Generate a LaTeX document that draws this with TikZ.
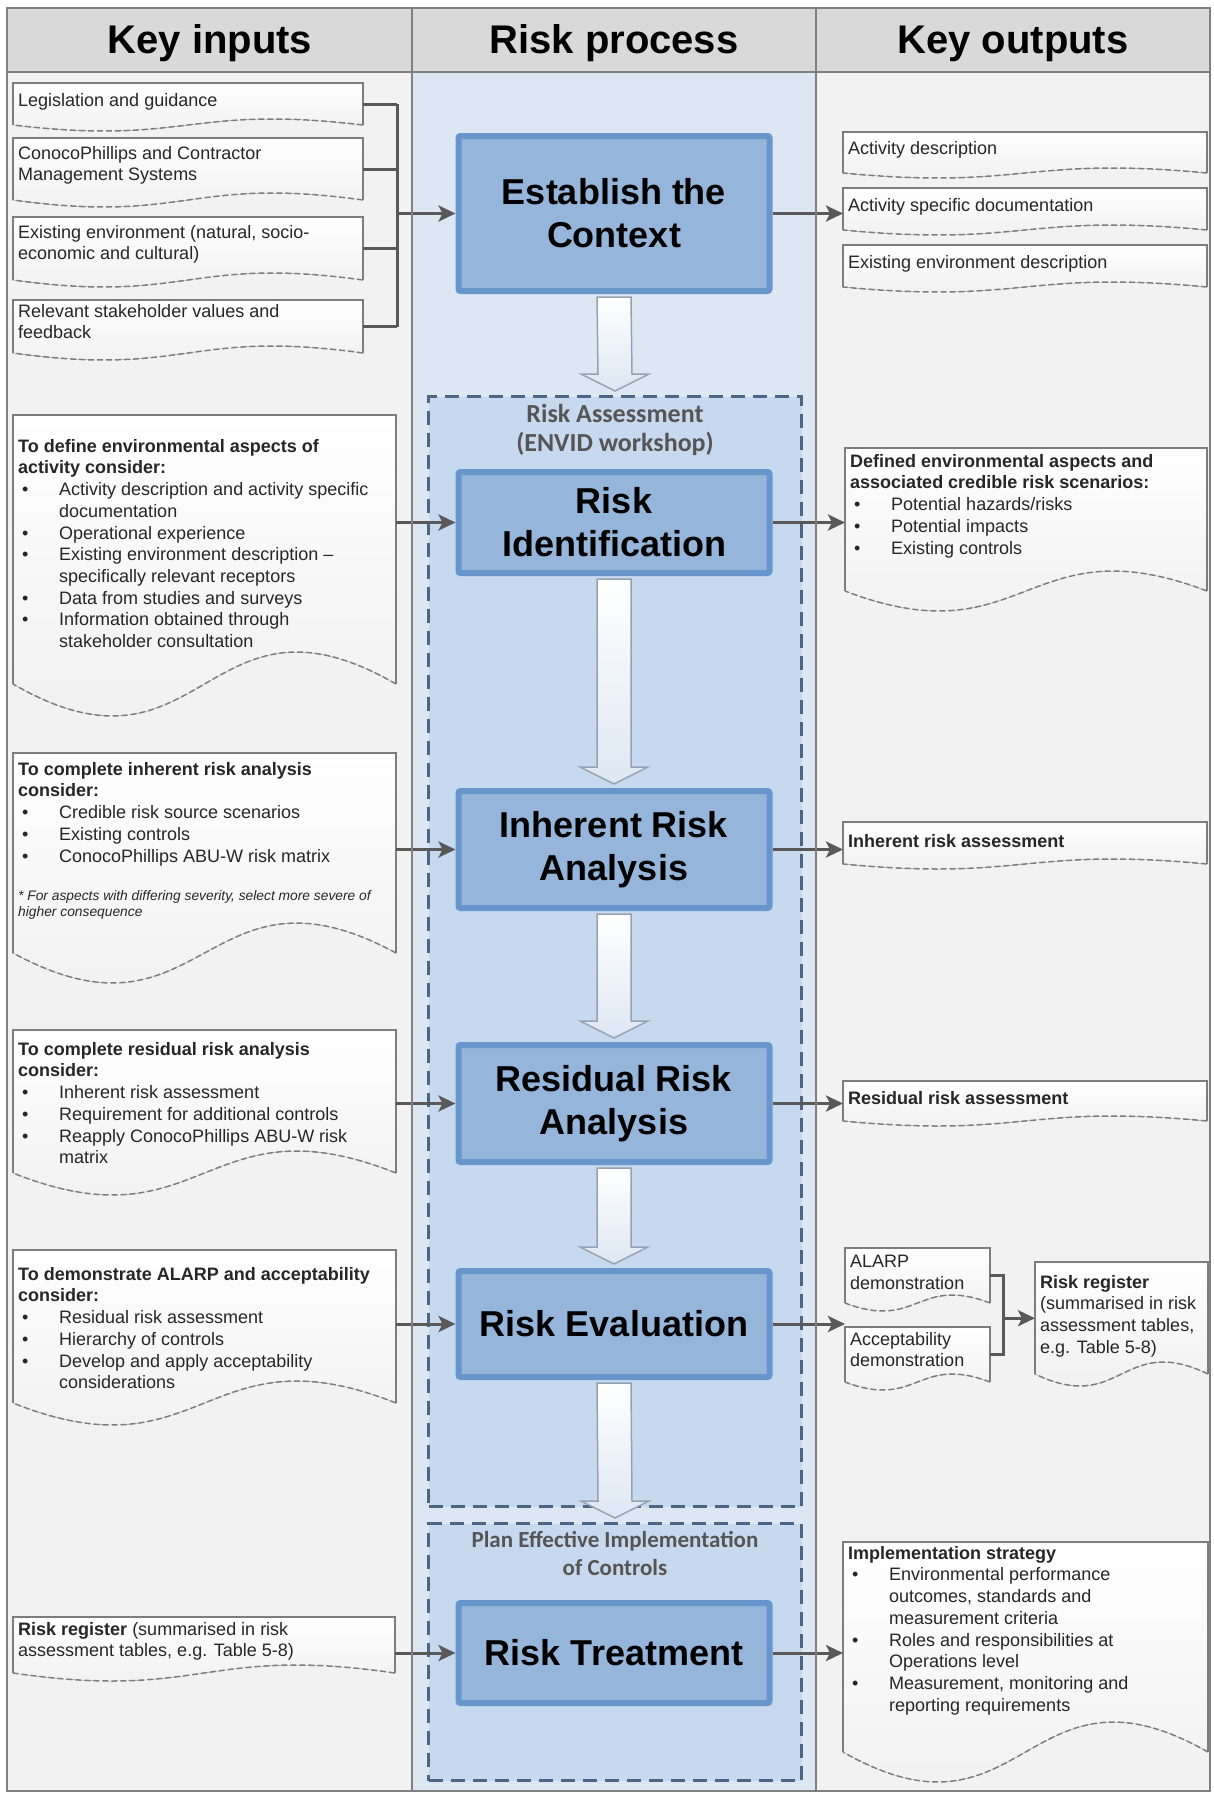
\documentclass[tikz,border=0pt]{standalone}
\usepackage{fontspec}
\setmainfont{Liberation Sans}
\newfontfamily\calib{Carlito}
\usetikzlibrary{
    positioning,
    calc,
    arrows.meta
}
\definecolor{framegray}{RGB}{128,128,128}
\definecolor{headgray}{RGB}{217,217,217}
\definecolor{sidegray}{RGB}{242,242,242}
\definecolor{colblue}{RGB}{221,231,243}
\definecolor{stageblue}{RGB}{199,217,238}
\definecolor{stageline}{RGB}{74,102,132}
\definecolor{procfill}{RGB}{149,182,218}
\definecolor{procline}{RGB}{104,150,204}
\definecolor{linkgray}{RGB}{89,89,89}
\definecolor{docline}{RGB}{125,125,125}
\definecolor{hollowline}{RGB}{150,162,178}
\definecolor{labelgray}{RGB}{85,85,85}
\def\brkx{397}
\def\regx{1003}
\newcommand{\bul}{\hspace*{4pt}\makebox[37pt][l]{\textbullet}}
\newcommand{\cont}{\hspace*{41pt}}
\newcommand{\foot}[1]{{\fontsize{13.8}{16}\selectfont\itshape #1}}
\tikzset{
    head/.style={
        font=\fontsize{40}{48}\selectfont\bfseries,
    },
    proc/.style={
        draw=procline,
        line width=6pt,
        fill=procfill,
        rounded corners=2pt,
        minimum width=311pt,
        align=center,
        font=\fontsize{36}{43}\selectfont\bfseries,
    },
    stage/.style={
        draw=stageline,
        line width=3pt,
        dash pattern=on 14pt off 8pt,
        fill=stageblue,
        minimum width=373pt,
    },
    stagelabel/.style={
        inner sep=0pt,
        align=center,
        text=labelgray,
        font=\calib\fontsize{23}{28}\selectfont\bfseries,
    },
    link/.style={draw=linkgray, line width=3pt},
    arr/.style={link, -{Stealth[length=17pt,width=16pt,inset=4pt]}},
    hollow/.style={draw=hollowline, line width=1.5pt, top color=white, bottom color=colblue},
    docfill/.style={top color=white, bottom color=black!7, draw=none},
    docside/.style={draw=docline, line width=1.5pt},
    docwave/.style={draw=docline, line width=1.5pt, dash pattern=on 6pt off 3pt},
    doctext/.style={
        anchor=north west,
        inner sep=0pt,
        align=left,
        text=black!85,
        font=\fontsize{18}{21.7}\selectfont,
    },
}
% name, x, y, width, height, wave, first baseline
\newcommand{\doc}[7]{%
    \fill[docfill] (#2,#3) -- ++(#4,0) -- ++(0,#5)
        .. controls ({#2+#4/2},{#3+#5-3.46*#6}) and ({#2+#4/2},{#3+#5+3.46*#6}) .. (#2,{#3+#5}) -- cycle;
    \draw[docside] (#2,{#3+#5}) -- (#2,#3) -- ({#2+#4},#3) -- ({#2+#4},{#3+#5});
    \draw[docwave] ({#2+#4},{#3+#5})
        .. controls ({#2+#4/2},{#3+#5-3.46*#6}) and ({#2+#4/2},{#3+#5+3.46*#6}) .. (#2,{#3+#5});
    \node[inner sep=0pt, minimum width=#4pt, minimum height=#5pt, anchor=north west] (#1) at (#2,#3) {};
    \node[doctext] at ({#2+5},{#3+#7-13})
}
\begin{document}
\begin{tikzpicture}[x=1pt, y=-1pt]
    \useasboundingbox (0,0) rectangle (1213,1794);
    \fill[white] (0,0) rectangle (1213,1794);
    \fill[sidegray] (7,72) rectangle (412,1791);
    \fill[colblue] (412,72) rectangle (816,1791);
    \fill[sidegray] (816,72) rectangle (1210,1791);
    \fill[headgray] (7,8) rectangle (1210,72);

    \node[head, anchor=base] (hin) at (210,53) {Key inputs};
    \node[head, anchor=base] (hproc) at (614,53) {Risk process};
    \node[head, anchor=base] (hout) at (1013,53) {Key outputs};

    \node[stage, minimum height=1110pt] (assess) at (615,951.5) {};
    \node[stage, minimum height=257pt] (plan) at (615,1652) {};
    \node[stagelabel, anchor=north, font=\calib\fontsize{26}{29}\selectfont\bfseries] (assesslbl)
        at ($(assess.north)+(0,9)$) {Risk Assessment\\(ENVID workshop)};
    \node[stagelabel, anchor=north] (planlbl) at ($(plan.north)+(0,9)$) {Plan Effective Implementation\\of Controls};

    \node[proc, minimum height=155pt] (ctx) at (614,213.5) {Establish the\\Context};
    \node[proc, minimum height=101pt, below=175pt of ctx] (id) {Risk\\Identification};
    \node[proc, minimum height=117pt, below=212pt of id] (inh) {Inherent Risk\\Analysis};
    \node[proc, minimum height=117pt, below=131pt of inh] (res) {Residual Risk\\Analysis};
    \node[proc, minimum height=106pt, below=103pt of res] (eval) {Risk Evaluation};
    \node[proc, minimum height=100pt, below=220pt of eval] (treat) {Risk Treatment};

    \foreach \a/\b in {ctx/assess, id/inh, inh/res, res/eval, eval/plan}{
        \draw[hollow] ($(\a.south)+(-17,3)$) -- ($(\b.north)+(-17,-21)$) -- ($(\b.north)+(-34,-21)$)
            -- ($(\b.north)+(0,-4)$) -- ($(\b.north)+(34,-21)$) -- ($(\b.north)+(17,-21)$)
            -- ($(\a.south)+(17,3)$) -- cycle;
    }

    \doc{leg}{13}{83}{350}{42}{6}{23}{Legislation and guidance};
    \doc{cms}{13}{138}{350}{62}{7}{21}{ConocoPhillips and Contractor\\Management Systems};
    \doc{env}{13}{217}{350}{63}{7}{21}{Existing environment (natural, socio-\\economic and cultural)};
    \doc{stake}{13}{300}{350}{53}{7}{17}{Relevant stakeholder values and\\feedback};
    \doc{defin}{13}{415}{383}{269}{32}{37}{\textbf{To define environmental aspects of}\\
        \textbf{activity consider:}\\
        \bul Activity description and activity specific\\
        \cont documentation\\
        \bul Operational experience\\
        \bul Existing environment description --\\
        \cont specifically relevant receptors\\
        \bul Data from studies and surveys\\
        \bul Information obtained through\\
        \cont stakeholder consultation};
    \doc{inhin}{13}{753}{383}{200}{30}{22}{\textbf{To complete inherent risk analysis}\\
        \textbf{consider:}\\
        \bul Credible risk source scenarios\\
        \bul Existing controls\\
        \bul ConocoPhillips ABU-W risk matrix\\[17pt]
        \foot{* For aspects with differing severity, select more severe of}\\[-6pt]
        \foot{higher consequence}};
    \doc{resin}{13}{1030}{383}{143}{22}{25}{\textbf{To complete residual risk analysis}\\
        \textbf{consider:}\\
        \bul Inherent risk assessment\\
        \bul Requirement for additional controls\\
        \bul Reapply ConocoPhillips ABU-W risk\\
        \cont matrix};
    \doc{alarpin}{13}{1250}{383}{153}{22}{30}{\textbf{To demonstrate ALARP and acceptability}\\
        \textbf{consider:}\\
        \bul Residual risk assessment\\
        \bul Hierarchy of controls\\
        \bul Develop and apply acceptability\\
        \cont considerations};
    \doc{regin}{13}{1617}{382}{56}{8}{18}{\textbf{Risk register} (summarised in risk\\assessment tables, e.g. Table 5-8)};

    \doc{act}{843}{132}{364}{41}{5}{22}{Activity description};
    \doc{spec}{843}{188}{364}{42}{5}{23}{Activity specific documentation};
    \doc{envd}{843}{245}{364}{42}{5}{23}{Existing environment description};
    \doc{defd}{845}{448}{362}{143}{20}{19}{\textbf{Defined environmental aspects and}\\
        \textbf{associated credible risk scenarios:}\\
        \bul Potential hazards/risks\\
        \bul Potential impacts\\
        \bul Existing controls};
    \doc{inhout}{843}{822}{364}{42}{5}{25}{\textbf{Inherent risk assessment}};
    \doc{resout}{843}{1081}{364}{40}{5}{23}{\textbf{Residual risk assessment}};
    \doc{alarpd}{845}{1248}{145}{55}{8}{20}{ALARP\\demonstration};
    \doc{accd}{845}{1327}{145}{55}{8}{18}{Acceptability\\demonstration};
    \doc{regout}{1035}{1262}{173}{112}{12}{26}{\textbf{Risk register}\\(summarised in risk\\assessment tables,\\e.g. Table 5-8)};
    \doc{impl}{843}{1542}{365}{210}{30}{17}{\textbf{Implementation strategy}\\
        \bul Environmental performance\\
        \cont outcomes, standards and\\
        \cont measurement criteria\\
        \bul Roles and responsibilities at\\
        \cont Operations level\\
        \bul Measurement, monitoring and\\
        \cont reporting requirements};

    \coordinate (inj) at (\brkx,0 |- ctx.west);
    \foreach \n in {leg,cms,env,stake}{
        \draw[link] (\n.east) -- (\n.east -| inj);
    }
    \draw[link] (inj |- leg.east) -- (inj |- stake.east);
    \draw[arr] (inj) -- (ctx.west);
    \draw[arr] (ctx.east) -- (ctx.east -| spec.west);

    \draw[arr] (id.west -| defin.east) -- (id.west);
    \draw[arr] (inh.west -| inhin.east) -- (inh.west);
    \draw[arr] (res.west -| resin.east) -- (res.west);
    \draw[arr] (eval.west -| alarpin.east) -- (eval.west);
    \draw[arr] (treat.west -| regin.east) -- (treat.west);

    \draw[arr] (id.east) -- (id.east -| defd.west);
    \draw[arr] (inh.east) -- (inh.east -| inhout.west);
    \draw[arr] (res.east) -- (res.east -| resout.west);
    \draw[arr] (eval.east) -- (eval.east -| alarpd.west);
    \draw[arr] (treat.east) -- (treat.east -| impl.west);

    \coordinate (brk) at (\regx,0);
    \draw[link] (alarpd.east) -| (brk |- accd.east) -- (accd.east);
    \draw[arr] (brk |- regout.west) -- (regout.west);

    \draw[framegray, line width=2pt] (7,8) rectangle (1210,1791);
    \draw[framegray, line width=2pt] (7,72) -- (1210,72);
    \draw[framegray, line width=2pt] (412,8) -- (412,1791);
    \draw[framegray, line width=2pt] (816,8) -- (816,1791);
\end{tikzpicture}
\end{document}
